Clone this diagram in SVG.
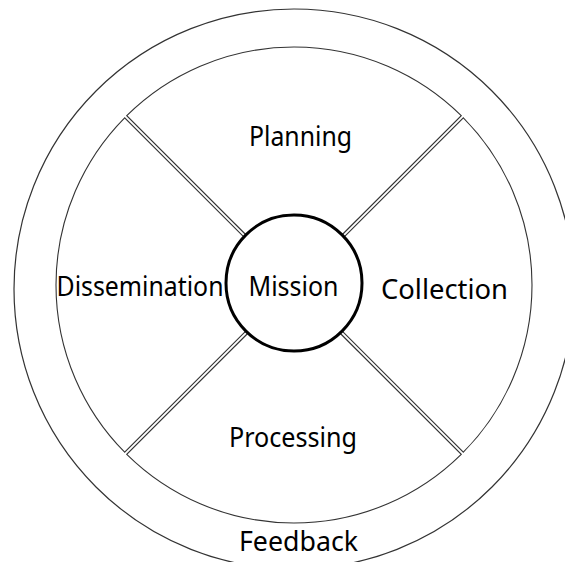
<svg xmlns="http://www.w3.org/2000/svg" width="565" height="562" viewBox="0 0 565 562">
  <style>
    .ring { fill: none; stroke: #333; stroke-width: 1.2; }
    .sector { fill: none; stroke: #333; stroke-width: 1.1; stroke-linejoin: miter; }
    .hub { fill: #fff; stroke: #000; stroke-width: 3; }
    .lbl { font-family: "Noto Sans", "Open Sans", sans-serif; font-size: 27px; fill: #000; }
  </style>
  <rect width="565" height="562" fill="#fff"/>
  <g id="feedback">
    <circle class="ring" cx="294" cy="289" r="280"/>
    <text class="lbl" x="239" y="551" textLength="119" lengthAdjust="spacingAndGlyphs">Feedback</text>
  </g>
  <g id="planning">
    <path class="sector" d="M252.63 241.51 L126.77 115.65 A238 238 0 0 1 461.23 115.65 L335.37 241.51"/>
    <text class="lbl" x="249" y="146" textLength="103" lengthAdjust="spacingAndGlyphs">Planning</text>
  </g>
  <g id="collection">
    <path class="sector" d="M337.49 243.63 L463.35 117.77 A238 238 0 0 1 463.35 452.23 L337.49 326.37"/>
    <text class="lbl" x="381" y="299" textLength="127" lengthAdjust="spacingAndGlyphs">Collection</text>
  </g>
  <g id="processing">
    <path class="sector" d="M335.37 328.49 L461.23 454.35 A238 238 0 0 1 126.77 454.35 L252.63 328.49"/>
    <text class="lbl" x="229" y="447" textLength="128" lengthAdjust="spacingAndGlyphs">Processing</text>
  </g>
  <g id="dissemination">
    <path class="sector" d="M250.51 326.37 L124.65 452.23 A238 238 0 0 1 124.65 117.77 L250.51 243.63"/>
    <text class="lbl" x="56.5" y="296" textLength="167" lengthAdjust="spacingAndGlyphs">Dissemination</text>
  </g>
  <g id="mission">
    <circle class="hub" cx="294" cy="283" r="68"/>
    <text class="lbl" x="248.5" y="296" textLength="90" lengthAdjust="spacingAndGlyphs">Mission</text>
  </g>
</svg>
